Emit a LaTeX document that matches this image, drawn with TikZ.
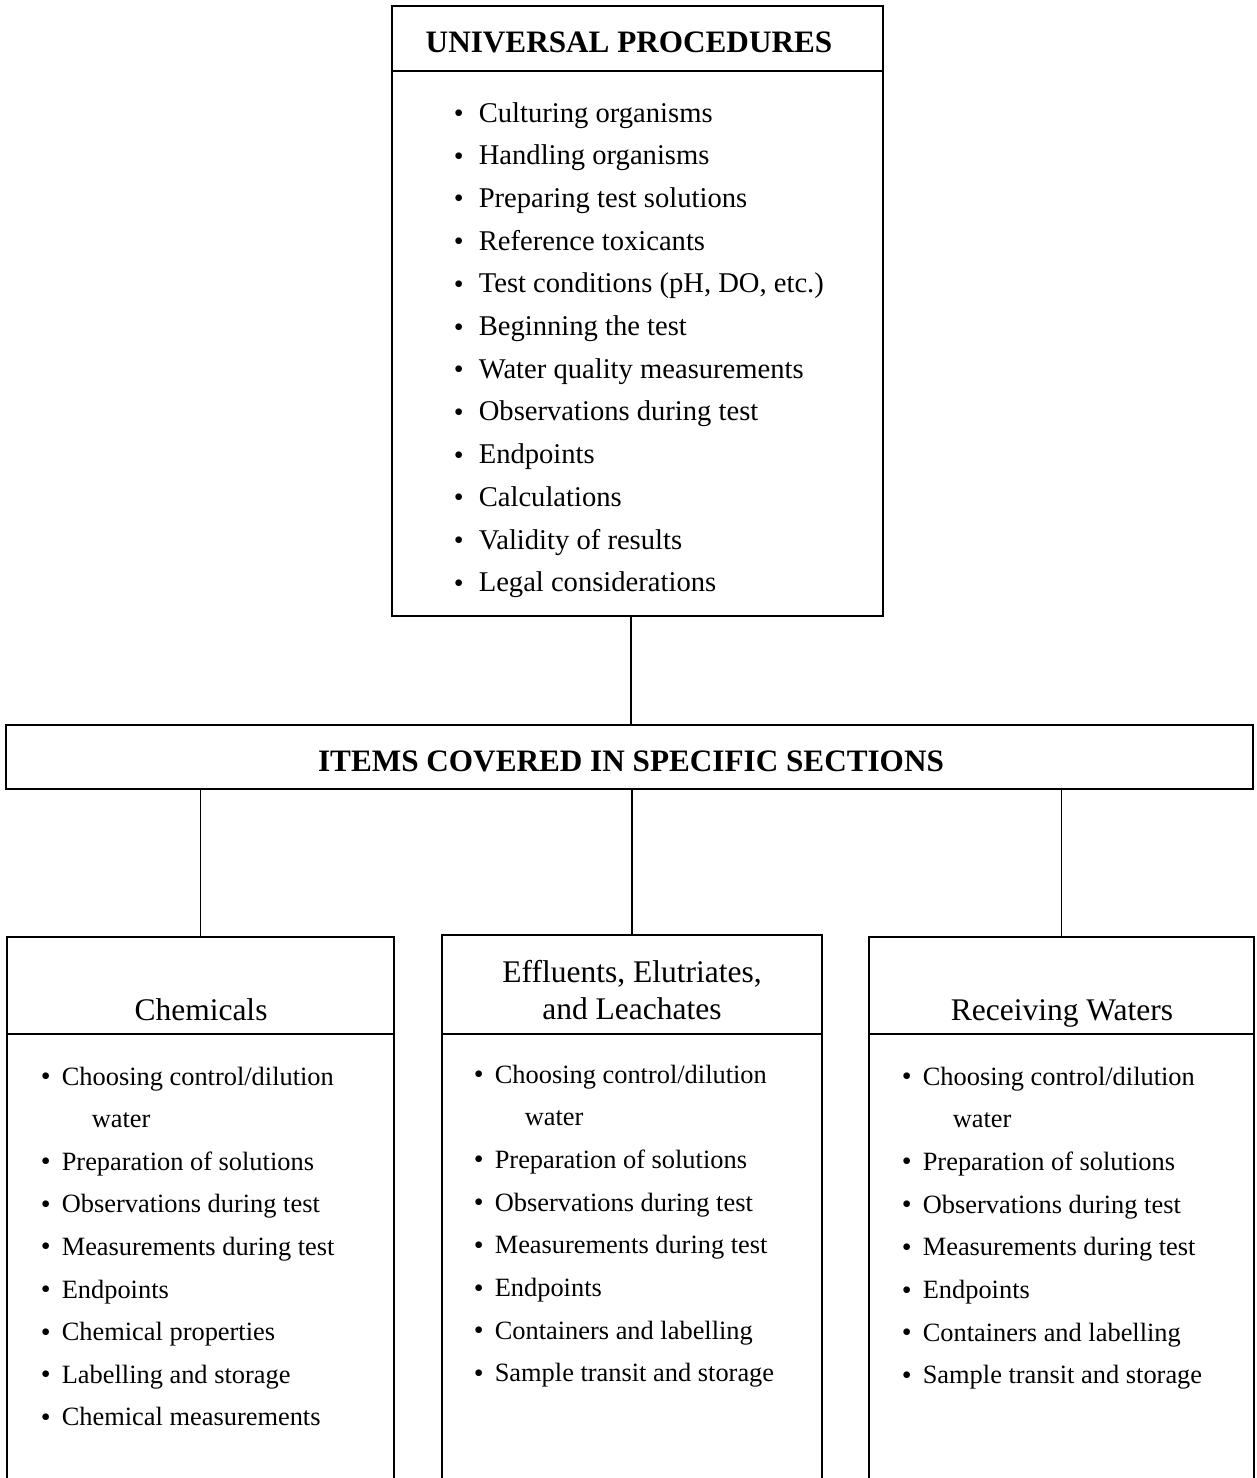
\documentclass[tikz,border=0pt]{standalone}
\usepackage{fontspec}
\setmainfont{Liberation Serif}
\newcommand\bul[1]{\makebox[#1pt][l]{\fontsize{28}{28}\selectfont\raisebox{-0.5pt}{•}}}
\begin{document}
\begin{tikzpicture}[x=1pt,y=-1pt,line width=1.6pt,
  frame/.style={draw,inner sep=0pt,outer sep=0pt},
  bigitem/.style={inner sep=0pt,anchor=base west,font=\fontsize{28.6}{34}\selectfont},
  smallitem/.style={inner sep=0pt,anchor=base west,font=\fontsize{26.4}{32}\selectfont},
  bighead/.style={inner sep=0pt,anchor=base,font=\bfseries\fontsize{31.2}{36}\selectfont},
  subhead/.style={inner sep=0pt,anchor=base,font=\fontsize{31.5}{37}\selectfont}]
\useasboundingbox[fill=white] (0,0) rectangle (1256,1478);

% boxes
\node[frame,minimum width=491,minimum height=65] (uhead) at (637.5,38.5) {};
\node[frame,minimum width=491,minimum height=545] (ubody) at (637.5,343.5) {};
\node[frame,minimum width=1247,minimum height=64] (items) at (629.5,757) {};
\node[frame,minimum width=387,minimum height=97] (chead) at (200.5,985.5) {};
\node[frame,minimum width=380,minimum height=99] (mhead) at (632,984.5) {};
\node[frame,minimum width=385,minimum height=97] (rhead) at (1061.5,985.5) {};
\coordinate (bottom) at (0,1478);
\draw (chead.south west) -- (chead.south west |- bottom);
\draw (chead.south east) -- (chead.south east |- bottom);
\draw (mhead.south west) -- (mhead.south west |- bottom);
\draw (mhead.south east) -- (mhead.south east |- bottom);
\draw (rhead.south west) -- (rhead.south west |- bottom);
\draw (rhead.south east) -- (rhead.south east |- bottom);

% connectors
\coordinate (tx) at (631,0);
\draw (tx |- ubody.south) -- (tx |- items.north);
\draw (chead.north) -- (chead.north |- items.south);
\draw (mhead.north) -- (mhead.north |- items.south);
\draw (rhead.north) -- (rhead.north |- items.south);

% headings
\node[bighead] (uhtext) at (629,52) {UNIVERSAL PROCEDURES};
\node[bighead] (itemstext) at (631,771) {ITEMS COVERED IN SPECIFIC SECTIONS};
\node[subhead] (ctext) at (201,1020) {Chemicals};
\node[subhead] (mtext1) at (632,982) {Effluents, Elutriates,};
\node[subhead] (mtext2) at (632,1019) {and Leachates};
\node[subhead] (rtext) at (1062,1020) {Receiving Waters};

% universal procedures
\foreach \t [count=\i from 0] in {Culturing organisms,Handling organisms,Preparing test solutions,Reference toxicants,{Test conditions (pH, DO, etc.)},Beginning the test,Water quality measurements,Observations during test,Endpoints,Calculations,Validity of results,Legal considerations}
  \node[bigitem] (u\i) at (453,{122+42.7*\i}) {\bul{25}\t};

% chemicals
\node[smallitem] (c0) at (40,1085) {\bul{21}Choosing control/dilution};
\node[smallitem] (c1) at (91,1127.6) {water};
\foreach \t [count=\i from 2] in {Preparation of solutions,Observations during test,Measurements during test,Endpoints,Chemical properties,Labelling and storage,Chemical measurements}
  \node[smallitem] (c\i) at (40,{1085+42.6*\i}) {\bul{21}\t};

% effluents
\node[smallitem] (m0) at (473,1083) {\bul{21}Choosing control/dilution};
\node[smallitem] (m1) at (524,1125.7) {water};
\foreach \t [count=\i from 2] in {Preparation of solutions,Observations during test,Measurements during test,Endpoints,Containers and labelling,Sample transit and storage}
  \node[smallitem] (m\i) at (473,{1083+42.7*\i}) {\bul{21}\t};

% receiving waters
\node[smallitem] (r0) at (901,1085) {\bul{21}Choosing control/dilution};
\node[smallitem] (r1) at (952,1127.7) {water};
\foreach \t [count=\i from 2] in {Preparation of solutions,Observations during test,Measurements during test,Endpoints,Containers and labelling,Sample transit and storage}
  \node[smallitem] (r\i) at (901,{1085+42.7*\i}) {\bul{21}\t};
\end{tikzpicture}
\end{document}
